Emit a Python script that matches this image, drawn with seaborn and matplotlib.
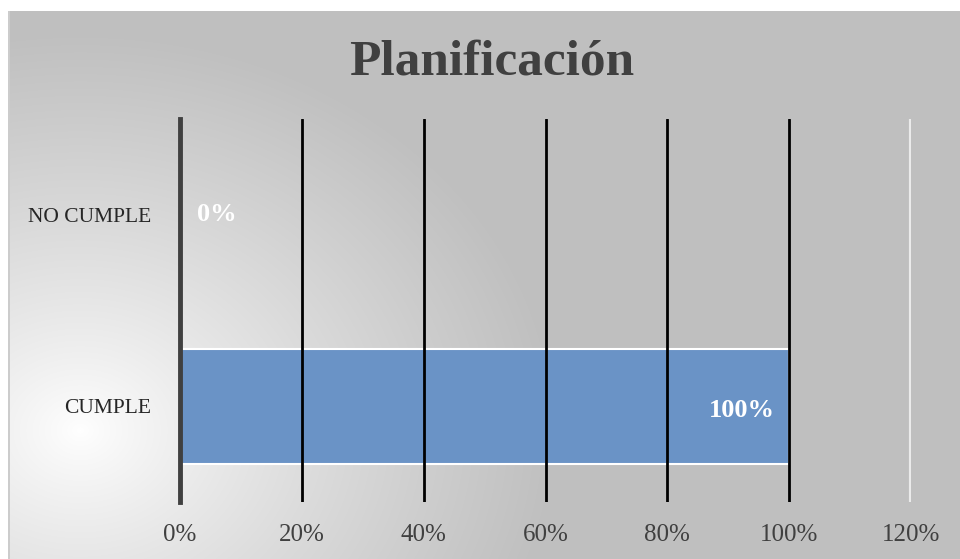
import numpy as np
import pandas as pd
import matplotlib
matplotlib.use("Agg")
import matplotlib.pyplot as plt
import seaborn as sns
from matplotlib.ticker import FuncFormatter

categories = ["NO CUMPLE", "CUMPLE"]
values = [0, 100]
value_labels = ["0%", "100%"]
tick_values = [0, 20, 40, 60, 80, 100, 120]
title = "Planificación"

sns.set_theme(style="white")
plt.rcParams["font.family"] = ["Liberation Serif", "DejaVu Serif"]

W, H = 960, 559
fig = plt.figure(figsize=(9.6, 5.59), dpi=100)

# background gradient
bg = fig.add_axes([0, 0, 1, 1], zorder=-10)
yy, xx = np.mgrid[0:H, 0:W]
d = np.hypot((xx - 80) * 1.0, (yy - 430) * 1.2)
f = np.clip(d / 480.0, 0, 1) ** 0.85
val = 255 - (255 - 191) * f
img = np.dstack([val, val, val]) / 255.0
img[:11, :, :] = 1.0
img[:, :8, :] = 1.0
img[11:, 8:10, :] = 0.80
bg.imshow(img, extent=[0, W, H, 0], aspect="auto", interpolation="bilinear")
bg.set_xlim(0, W)
bg.set_ylim(H, 0)
bg.axis("off")

df = pd.DataFrame({"cat": categories, "val": values})
ax = fig.add_axes([180 / W, (H - 502) / H, (911 - 180) / W, (502 - 119) / H])
ax.patch.set_alpha(0)
sns.barplot(data=df, x="val", y="cat", orient="h", color="#6a93c6",
            width=0.6, edgecolor="white", linewidth=1.5, ax=ax, saturation=1)
ax.set_xlim(0, 120)
ax.set_xticks(tick_values)
ax.xaxis.set_major_formatter(FuncFormatter(lambda v, p: f"{int(v)}%"))
ax.set_xlabel("")
ax.set_ylabel("")
ax.grid(axis="x", color="black", linewidth=2)
ax.grid(axis="y", visible=False)
ax.set_axisbelow(False)
gl = ax.get_xgridlines()
gl[0].set_visible(False)
gl[-1].set_color("#ebebeb")
gl[-1].set_linewidth(3)
for s in ["top", "right", "bottom"]:
    ax.spines[s].set_visible(False)
ax.spines["left"].set_color("#404040")
ax.spines["left"].set_linewidth(3.5)
ax.tick_params(axis="x", colors="#404040", labelsize=18, pad=16, length=0)
ax.tick_params(axis="y", colors="#262626", labelsize=15.5, pad=21, length=0)
for lbl in ax.get_xticklabels():
    lbl.set_color("#404040")

for i, (v, t) in enumerate(zip(values, value_labels)):
    if v == 0:
        ax.annotate(t, (v, i), xytext=(12, 0), textcoords="offset points",
                    ha="left", va="center", color="white", fontsize=19,
                    fontweight="bold")
    else:
        ax.annotate(t, (v, i), xytext=(-10, -3), textcoords="offset points",
                    ha="right", va="center", color="white", fontsize=19,
                    fontweight="bold")

fig.text(492 / W, 1 - 62 / H, title, ha="center", va="center",
         fontsize=37, fontweight="bold", color="#404040")

fig.savefig("out.png", dpi=100)
